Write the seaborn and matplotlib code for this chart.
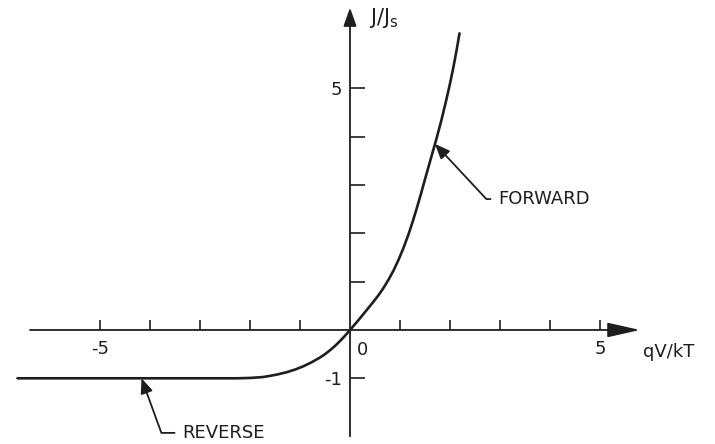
'''
Diode J-V characteristic (forward / reverse bias)
'''

import matplotlib
matplotlib.use('Agg')
import matplotlib.pyplot as plt
import numpy as np
import pandas as pd
import seaborn as sns

### Data
reverse_v = [-6.65, -5.0, -4.0, -3.0, -2.27, -2.0, -1.75, -1.6, -1.45, -1.27,
             -1.1, -0.93, -0.77, -0.6, -0.5, -0.4, -0.3, -0.2, -0.1]
reverse_j = [-1.0, -1.0, -1.0, -1.0, -1.0, -0.993, -0.975, -0.95, -0.92, -0.875,
             -0.82, -0.75, -0.67, -0.57, -0.5, -0.42, -0.33, -0.23, -0.12]
forward_v = [0.0, 0.15, 0.3, 0.45, 0.57, 0.67, 0.77, 0.87, 0.97, 1.07, 1.17,
             1.25, 1.33, 1.42, 1.5, 1.62, 1.73, 1.83, 1.93, 2.0, 2.07, 2.13, 2.19]
forward_j = [0.0, 0.18, 0.37, 0.56, 0.72, 0.87, 1.04, 1.23, 1.45, 1.7, 1.98,
             2.23, 2.5, 2.82, 3.12, 3.56, 3.96, 4.35, 4.78, 5.1, 5.45, 5.78, 6.14]

x_ticks = [-5, -4, -3, -2, -1, 1, 2, 3, 4, 5]
x_tick_labels = ['-5', '', '', '', '', '', '', '', '', '5']
y_ticks = [-1, 1, 2, 3, 4, 5]
y_tick_labels = ['-1', '', '', '', '', '5']

ink = '#1e1e1e'

df = pd.DataFrame({
    'v': reverse_v + forward_v,
    'j': reverse_j + forward_j,
})

sns.set_theme(style='white')
plt.rcParams['font.family'] = ['DejaVu Sans']

fig = plt.figure(figsize=(7.15, 4.44), dpi=100)
ax = fig.add_axes([0, 0, 1, 1])

sns.lineplot(data=df, x='v', y='j', ax=ax, color=ink, linewidth=1.9,
             estimator=None, sort=True, solid_joinstyle='round')

ax.set_xlim(-7.0, 7.3)
ax.set_ylim(-2.36, 6.83)
ax.set_xlabel('')
ax.set_ylabel('')

# axes through the origin, drawn as arrows
for s in ['top', 'right']:
    ax.spines[s].set_visible(False)
ax.spines['left'].set_position(('data', 0))
ax.spines['bottom'].set_position(('data', 0))
ax.spines['left'].set_visible(False)
ax.spines['bottom'].set_visible(False)

ax.annotate('', xy=(5.8, 0), xytext=(-6.4, 0),
            arrowprops=dict(arrowstyle='-|>,head_length=0.8,head_width=0.18',
                            mutation_scale=25, lw=1.3, color=ink,
                            shrinkA=0, shrinkB=0))
ax.annotate('', xy=(0, 6.67), xytext=(0, -2.2),
            arrowprops=dict(arrowstyle='-|>,head_length=0.7,head_width=0.25',
                            mutation_scale=16, lw=1.3, color=ink,
                            shrinkA=0, shrinkB=0))

ax.set_xticks(x_ticks, x_tick_labels)
ax.set_yticks(y_ticks, y_tick_labels)
ax.tick_params(axis='x', direction='in', length=7, width=1.2, color=ink,
               labelsize=13, labelcolor=ink, pad=7, bottom=True)
ax.tick_params(axis='y', direction='in', length=11, width=1.2, color=ink,
               labelsize=13, labelcolor=ink, pad=6, left=True)

# labels
ax.text(0.26, -0.42, '0', fontsize=13, color=ink, ha='center', va='center')
ax.text(5.85, -0.46, 'qV/kT', fontsize=13, color=ink, ha='left', va='center')
ax.text(0.38, 6.45, r'$\mathregular{J/J_s}$', fontsize=15, color=ink,
        ha='left', va='center')

# leader arrows
ax.annotate('FORWARD', xy=(1.7, 3.85), xytext=(2.96, 2.71),
            fontsize=13, color=ink, ha='left', va='center',
            arrowprops=dict(arrowstyle='-|>,head_length=0.6,head_width=0.25',
                            mutation_scale=15, lw=1.3, color=ink,
                            connectionstyle='angle,angleA=0,angleB=-47,rad=0',
                            shrinkA=3, shrinkB=0))
ax.annotate('REVERSE', xy=(-4.17, -1.0), xytext=(-3.36, -2.13),
            fontsize=13, color=ink, ha='left', va='center',
            arrowprops=dict(arrowstyle='-|>,head_length=0.6,head_width=0.25',
                            mutation_scale=15, lw=1.3, color=ink,
                            connectionstyle='angle,angleA=0,angleB=110,rad=0',
                            shrinkA=3, shrinkB=0))

fig.savefig('out.png', dpi=100)
